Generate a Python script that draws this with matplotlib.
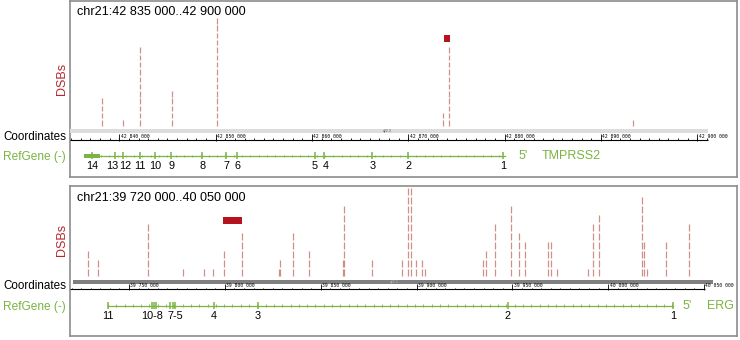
import numpy as np
import matplotlib.pyplot as plt
from matplotlib.patches import Rectangle

plt.rcParams['font.family'] = ['Liberation Sans', 'DejaVu Sans']

W, H = 740, 340

# upper panel: TMPRSS2
top_region = "chr21:42 835 000..42 900 000"
top_dsb_pos = [42838240, 42840420, 42842190, 42845510, 42850180, 42873650, 42874270, 42893280]
top_dsb_cnt = [4, 1, 11, 5, 15, 2, 11, 1]
top_peak = (42873680, 42874300)
top_gene = "TMPRSS2"
top_gene_span = (42836370, 42880000)
top_first_exon = (42836370, 42838030)
top_exon_pos = [42837200, 42839600, 42840420, 42842190, 42843740, 42845400, 42848620,
                42851110, 42852260, 42860350, 42861300, 42866280, 42870010, 42879880]
top_lab_pos = [42837200, 42839250, 42840650, 42842190, 42843740, 42845400, 42848620,
               42851110, 42852260, 42860250, 42861400, 42866280, 42870010, 42879880]
top_exon_lab = ['14', '13', '12', '11', '10', '9', '8', '7', '6', '5', '4', '3', '2', '1']
top_ticks = [42840000, 42850000, 42860000, 42870000, 42880000, 42890000, 42900000]

# lower panel: ERG
bot_region = "chr21:39 720 000..40 050 000"
bot_dsb_pos = [39728450, 39734000, 39759900, 39778000, 39789300, 39793700, 39799600,
               39808800, 39828000, 39828800, 39835700, 39843900, 39861400, 39862300,
               39876600, 39892600, 39895700, 39897100, 39899600, 39903000, 39904400,
               39934800, 39936100, 39941100, 39949300, 39953300, 39956800, 39968400,
               39970200, 39973300, 39989600, 39992200, 39995200, 40017500, 40018800,
               40020200, 40030300, 40042300]
bot_dsb_cnt = [3, 2, 6, 1, 1, 1, 3,
               5, 1, 2, 5, 3, 2, 8,
               2, 2, 10, 10, 2, 2, 1,
               2, 3, 6, 8, 5, 4, 4,
               4, 1, 1, 6, 7, 9, 4,
               1, 4, 6]
bot_peak = (39799000, 39808800)
bot_gene = "ERG"
bot_gene_span = (39739040, 40033800)
bot_exon_pos = [39739040, 39762000, 39763200, 39764100, 39771400, 39772800, 39774000,
                39794350, 39817140, 39947700, 40033800]
bot_lab_pos = [39739040, 39762000, 39774000, 39794350, 39817140, 39947700, 40033800]
bot_exon_lab = ['11', '10-8', '7-5', '4', '3', '2', '1']
bot_ticks = [39750000, 39800000, 39850000, 39900000, 39950000, 40000000, 40050000]

GREEN = '#7ab442'
DSB_COL = '#c9847a'
PEAK_COL = '#b5141e'
LEFT, RIGHT = 70, 737


def px_box(x0, y0, x1, y1):
    return [x0 / W, 1 - y1 / H, (x1 - x0) / W, (y1 - y0) / H]


def ftext(x, y, s, **kw):
    fig.text(x / W, 1 - y / H, s, **kw)


def draw_panel(lay, region, dsb_pos, dsb_cnt, peak, gene, gene_span, exon_pos,
               lab_pos, exon_lab, ticks, minor_step, first_exon=None):
    # genomic <-> pixel scale from two ruler anchors
    s = (lay['g_b'] - lay['g_a']) / (lay['px_b'] - lay['px_a'])
    g = lambda px: lay['g_a'] + (px - lay['px_a']) * s
    xlim = (g(LEFT), g(RIGHT))

    box = fig.add_axes(px_box(LEFT, lay['top'], RIGHT, lay['bottom']))
    box.set_xticks([])
    box.set_yticks([])
    for sp in box.spines.values():
        sp.set_color('#8c8c8c')
        sp.set_linewidth(1.2)

    # DSB track
    ax = fig.add_axes(px_box(LEFT, lay['dsb_top'], RIGHT, lay['base']))
    ax.set_xlim(xlim)
    ax.set_ylim(0, (lay['base'] - lay['dsb_top']) / lay['unit'])
    ax.axis('off')
    ax.patch.set_alpha(0)
    for p, c in zip(dsb_pos, dsb_cnt):
        k = np.arange(c)
        ax.vlines([p] * c, k + 0.13, k + 0.87, color=DSB_COL, lw=0.9, alpha=0.9)
    ax.broken_barh([(peak[0], peak[1] - peak[0])], (lay['peak_lo'], lay['peak_h']),
                   color=PEAK_COL, lw=0)

    # ruler + gene track, y in pixels
    tr = fig.add_axes(px_box(LEFT, lay['base'], RIGHT, lay['bottom'] - 2))
    tr.set_xlim(xlim)
    tr.set_ylim(lay['bottom'] - 2, lay['base'])
    tr.axis('off')
    tr.patch.set_alpha(0)

    tr.add_patch(Rectangle((g(lay['band_x0']), lay['band_y']),
                           g(lay['band_x1']) - g(lay['band_x0']), lay['band_h'],
                           color=lay['band_col'], lw=0))
    tr.text(g(lay['band_lab_x']), lay['band_y'] + lay['band_h'] / 2, lay['band_lab'],
            fontsize=2.5, color=lay['band_lab_col'], va='center', ha='left')

    ay = lay['axis_y']
    r0, r1 = g(LEFT + 0.5), g(lay['axis_x1'])
    tr.plot([r0, r1], [ay, ay], color='black', lw=0.8, solid_capstyle='butt')
    minor = np.arange(lay['minor_start'], r1, minor_step)
    tr.vlines(minor, ay - 1.6, ay, color='black', lw=0.6)
    tr.vlines(ticks, ay - 5.5, ay + 0.6, color='black', lw=0.6)
    for t in ticks:
        lab = f"{t:,}".replace(',', ' ')
        tr.text(t + 1.5 * s, ay - 3.8, lab, fontsize=3.4, family='DejaVu Sans Mono',
                va='center', ha='left')

    gy = lay['gene_y']
    tr.plot(gene_span, [gy, gy], color=GREEN, lw=0.9)
    arrows = np.arange(gene_span[0], gene_span[1], 8.3 * s)
    tr.vlines(arrows, gy - 1.3, gy + 1.3, color=GREEN, lw=0.6)
    tr.vlines(exon_pos, gy - 3.5, gy + 3.5, color=GREEN, lw=1.1)
    if first_exon is not None:
        tr.add_patch(Rectangle((first_exon[0], gy - 2.2), first_exon[1] - first_exon[0], 4.4,
                               color=GREEN, lw=0))
    for p, lab in zip(lab_pos, exon_lab):
        tr.text(p, lay['lab_y'], lab, fontsize=7.8, ha='center', va='center')

    ftext(lay['five_x'], gy, "5'", fontsize=9, color=GREEN, va='center', ha='left')
    ftext(lay['name_x'], gy, gene, fontsize=9, color=GREEN, va='center', ha='left')
    ftext(77, lay['title_y'], region, fontsize=9.1, va='center', ha='left')
    ftext(66, lay['coord_y'], 'Coordinates', fontsize=8.4, va='center', ha='right')
    ftext(66, gy + 1, 'RefGene (-)', fontsize=8.6, color=GREEN, va='center', ha='right')
    ftext(62, lay['dsb_lab_y'], 'DSBs', fontsize=9, color='#b8262a', rotation=90,
          va='center', ha='center')


fig = plt.figure(figsize=(W / 100, H / 100), dpi=100)

top_lay = dict(top=1, bottom=177, dsb_top=2, base=126.7, unit=7.3,
               peak_lo=11.6, peak_h=1.0,
               px_a=119.3, g_a=42840000, px_b=697.3, g_b=42900000,
               band_x0=70, band_x1=707.7, band_y=129.2, band_h=3.8, band_col='#dcdcdc',
               band_lab_x=383, band_lab='q22.3', band_lab_col='#555555',
               axis_y=140, axis_x1=707.7, minor_start=42835000,
               gene_y=156, lab_y=166, five_x=519, name_x=542,
               title_y=12, coord_y=136.5, dsb_lab_y=79)
draw_panel(top_lay, top_region, top_dsb_pos, top_dsb_cnt, top_peak, top_gene,
           top_gene_span, top_exon_pos, top_lab_pos, top_exon_lab, top_ticks, 1000,
           first_exon=top_first_exon)

bot_lay = dict(top=186, bottom=336, dsb_top=186.5, base=277, unit=9.0,
               peak_lo=5.86, peak_h=0.84,
               px_a=129, g_a=39750000, px_b=704, g_b=40050000,
               band_x0=73, band_x1=713, band_y=280, band_h=4, band_col='#7f7f7f',
               band_lab_x=390, band_lab='q22.2', band_lab_col='#bbbbbb',
               axis_y=289.3, axis_x1=705.5, minor_start=39720000,
               gene_y=305.7, lab_y=316, five_x=683, name_x=707,
               title_y=198, coord_y=286, dsb_lab_y=240)
draw_panel(bot_lay, bot_region, bot_dsb_pos, bot_dsb_cnt, bot_peak, bot_gene,
           bot_gene_span, bot_exon_pos, bot_lab_pos, bot_exon_lab, bot_ticks, 5000)

fig.savefig('out.png', dpi=100)
